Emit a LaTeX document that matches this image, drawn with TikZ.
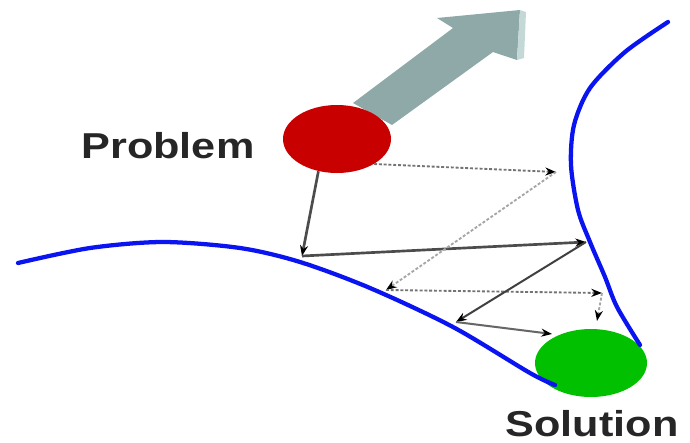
\documentclass[tikz,border=0pt]{standalone}
\usepackage{fontspec}
\setmainfont{Liberation Sans}
\usepackage{xcolor}
\usetikzlibrary{arrows.meta, shapes.geometric}

\definecolor{probred}{HTML}{C80000}
\definecolor{solgreen}{HTML}{00C000}
\definecolor{pathblue}{HTML}{0A14F0}
\definecolor{arrowgray}{HTML}{8FA9A9}
\definecolor{arrowlight}{HTML}{C4D8D8}

\tikzset{
  blob/.style={ellipse, inner sep=0pt, minimum width=81pt, minimum height=51pt},
  tag/.style={font=\fontsize{27}{30}\selectfont\bfseries, text=black!85, xscale=1.2, inner sep=0pt},
  hard/.style={->, draw=black!70, line width=2pt},
  soft/.style={->, draw=black!75, line width=1.5pt},
  dots/.style={->, draw=black!55, line width=1.4pt, dash pattern=on 2.2pt off 1.4pt},
  bound/.style={pathblue, line width=3.2pt, line cap=round}
}

\begin{document}
\begin{tikzpicture}[x=0.75pt,y=-0.75pt,>={Stealth[length=8pt,width=6pt,color=black]}]
  \useasboundingbox (0,0) rectangle (690,443);

  \fill[arrowgray] (392,125)--(493,52)--(517,60)--(520,10)--(437,18)--(453,28)--(353,103)--cycle;
  \fill[arrowlight] (517,60)--(520,10)--(526,12)--(524,58)--cycle;

  \node[blob, fill=probred] (prob) at (337,139) {};
  \node[blob, fill=solgreen, minimum width=84pt] (sol) at (591,363) {};

  \draw[bound] plot[smooth] coordinates {(18,263) (90,248) (163,242) (240,248) (300,262) (370,288) (453,327) (530,373) (555,385)};
  \draw[bound] plot[smooth] coordinates {(668,22) (625,52) (590,88) (574,125) (571,165) (578,210) (590,242) (605,277) (617,307) (640,345)};

  \node[tag] (problabel) at (168,146) {Problem};
  \node[tag] (sollabel) at (592,424) {Solution};

  \coordinate (a) at (302,256);
  \coordinate (b) at (586,242);
  \coordinate (c) at (556,172);
  \coordinate (d) at (386,290);
  \coordinate (e) at (602,293);
  \coordinate (f) at (597,321);
  \coordinate (g) at (456,322);
  \coordinate (h) at (552,334);

  \draw[hard] (prob.-120) -- (a);
  \draw[hard] (a) -- (b);
  \draw[dots] (prob.-34) -- (c);
  \draw[dots, draw=black!35] (c) -- (d);
  \draw[dots] (d) -- (e);
  \draw[dots, draw=black!35] (e) -- (f);
  \draw[soft] (b) -- (g);
  \draw[soft, draw=black!60] (g) -- (h);
\end{tikzpicture}
\end{document}
